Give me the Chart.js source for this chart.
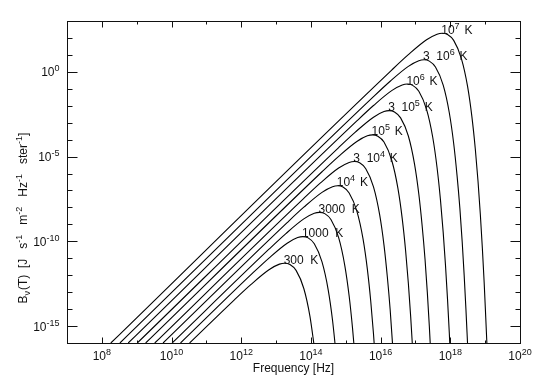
<!DOCTYPE html>
<html>
<head>
<meta charset="utf-8">
<script src="https://cdn.jsdelivr.net/npm/chart.js@4.4.1/dist/chart.umd.min.js"></script>
<style>
  body { margin: 0; background: #fff; }
</style>
</head>
<body>
<canvas id="planck_chart" width="540" height="386"></canvas>
<script>
// axis ranges and labelled decades
var xMin = 1e7, xMax = 1e20
var yMin = 1e-16, yMax = 1e3
var xLabelExps = [8, 10, 12, 14, 16, 18, 20]
var yLabelExps = [0, -5, -10, -15]

// curve labels: [text, exponent, tail]
var tempLabels = [
  ["300  K"], ["1000  K"], ["3000  K"],
  ["10", "4", " K"], ["3  10", "4", " K"],
  ["10", "5", " K"], ["3  10", "5", " K"],
  ["10", "6", " K"], ["3  10", "6", " K"],
  ["10", "7", " K"]
]

// points: [frequency (Hz), B_nu]
var curve300K = [[3.30e10, 1e-16], [6.25e11, 3.42e-14], [1.88e12, 2.78e-13], [6.25e12, 2.10e-12], [1.25e13, 4.51e-12], [1.76e13, 5.12e-12], [2.50e13, 4.30e-12], [3.75e13, 1.93e-12], [6.25e13, 1.64e-13], [9.38e13, 3.72e-15], [1.25e14, 5.94e-17]]
var curve1000K = [[1.81e10, 1e-16], [2.08e12, 1.27e-12], [6.25e12, 1.03e-11], [2.08e13, 7.76e-11], [4.17e13, 1.67e-10], [5.88e13, 1.90e-10], [8.33e13, 1.59e-10], [1.25e14, 7.16e-11], [2.08e14, 6.06e-12], [3.13e14, 1.38e-13], [4.17e14, 2.20e-15], [5.21e14, 2.89e-17]]
var curve3000K = [[1.04e10, 1e-16], [6.25e12, 3.42e-11], [1.88e13, 2.78e-10], [6.25e13, 2.10e-9], [1.25e14, 4.51e-9], [1.76e14, 5.12e-9], [2.50e14, 4.30e-9], [3.75e14, 1.93e-9], [6.25e14, 1.64e-10], [9.38e14, 3.72e-12], [1.25e15, 5.94e-14], [1.56e15, 7.82e-16], [1.88e15, 9.10e-18]]
var curve1e4K = [[5.71e9, 1e-16], [2.08e13, 1.27e-9], [6.25e13, 1.03e-8], [2.08e14, 7.76e-8], [4.17e14, 1.67e-7], [5.88e14, 1.90e-7], [8.33e14, 1.59e-7], [1.25e15, 7.16e-8], [2.08e15, 6.06e-9], [3.13e15, 1.38e-10], [4.17e15, 2.20e-12], [5.21e15, 2.89e-14], [6.25e15, 3.37e-16], [7.29e15, 3.61e-18]]
var curve3e4K = [[3.30e9, 1e-16], [6.25e13, 3.42e-8], [1.88e14, 2.78e-7], [6.25e14, 2.10e-6], [1.25e15, 4.51e-6], [1.76e15, 5.12e-6], [2.50e15, 4.30e-6], [3.75e15, 1.93e-6], [6.25e15, 1.64e-7], [9.38e15, 3.72e-9], [1.25e16, 5.94e-11], [1.56e16, 7.82e-13], [1.88e16, 9.10e-15], [2.19e16, 9.74e-17], [2.50e16, 9.79e-19]]
var curve1e5K = [[1.81e9, 1e-16], [2.08e14, 1.27e-6], [6.25e14, 1.03e-5], [2.08e15, 7.76e-5], [4.17e15, 1.67e-4], [5.88e15, 1.90e-4], [8.33e15, 1.59e-4], [1.25e16, 7.16e-5], [2.08e16, 6.06e-6], [3.13e16, 1.38e-7], [4.17e16, 2.20e-9], [5.21e16, 2.89e-11], [6.25e16, 3.37e-13], [7.29e16, 3.61e-15], [8.33e16, 3.63e-17]]
var curve3e5K = [[1.04e9, 1e-16], [6.25e14, 3.42e-5], [1.88e15, 2.78e-4], [6.25e15, 2.10e-3], [1.25e16, 4.51e-3], [1.76e16, 5.12e-3], [2.50e16, 4.30e-3], [3.75e16, 1.93e-3], [6.25e16, 1.64e-4], [9.38e16, 3.72e-6], [1.25e17, 5.94e-8], [1.56e17, 7.82e-10], [1.88e17, 9.10e-12], [2.19e17, 9.74e-14], [2.50e17, 9.79e-16], [2.81e17, 9.39e-18]]
var curve1e6K = [[5.71e8, 1e-16], [2.08e15, 1.27e-3], [6.25e15, 1.03e-2], [2.08e16, 7.76e-2], [4.17e16, 0.167], [5.88e16, 0.190], [8.33e16, 0.159], [1.25e17, 7.16e-2], [2.08e17, 6.06e-3], [3.13e17, 1.38e-4], [4.17e17, 2.20e-6], [5.21e17, 2.89e-8], [6.25e17, 3.37e-10], [7.29e17, 3.61e-12], [8.33e17, 3.63e-14], [9.38e17, 3.48e-16], [1.04e18, 3.22e-18]]
var curve3e6K = [[3.30e8, 1e-16], [6.25e15, 3.42e-2], [1.88e16, 0.278], [6.25e16, 2.10], [1.25e17, 4.51], [1.76e17, 5.12], [2.50e17, 4.30], [3.75e17, 1.93], [6.25e17, 0.164], [9.38e17, 3.72e-3], [1.25e18, 5.94e-5], [1.56e18, 7.82e-7], [1.88e18, 9.10e-9], [2.19e18, 9.74e-11], [2.50e18, 9.79e-13], [2.81e18, 9.39e-15], [3.13e18, 8.68e-17]]
var curve1e7K = [[1.81e8, 1e-16], [2.08e16, 1.27], [6.25e16, 10.3], [2.08e17, 77.6], [4.17e17, 167], [5.88e17, 190], [8.33e17, 159], [1.25e18, 71.6], [2.08e18, 6.06], [3.13e18, 0.138], [4.17e18, 2.20e-3], [5.21e18, 2.89e-5], [6.25e18, 3.37e-7], [7.29e18, 3.61e-9], [8.33e18, 3.63e-11], [9.38e18, 3.48e-13], [1.04e19, 3.22e-15], [1.15e19, 2.88e-17]]

var curves = [curve300K, curve1000K, curve3000K, curve1e4K, curve3e4K, curve1e5K, curve3e5K, curve1e6K, curve3e6K, curve1e7K]

var FONT = '"Liberation Sans", Arial, sans-serif'

// draw text made of pieces with different sizes / raised pieces
function drawRich(ctx, parts, x, y, align) {
  var w = 0
  parts.forEach(function (p) {
    ctx.font = p.size + 'px ' + FONT
    w += ctx.measureText(p.t).width + (p.pad || 0)
  })
  if (align === 'center') x -= w / 2
  if (align === 'right') x -= w
  parts.forEach(function (p) {
    ctx.font = p.size + 'px ' + FONT
    ctx.fillText(p.t, x, y - (p.rise || 0))
    x += ctx.measureText(p.t).width + (p.pad || 0)
  })
}

function power(base, exp) {
  return [{t: base, size: 12}, {t: exp, size: 9, rise: 5}]
}

var idlAxes = {
  id: 'idlAxes',
  afterDatasetsDraw: function (chart) {
    var ctx = chart.ctx, a = chart.chartArea
    var xs = chart.scales.x, ys = chart.scales.y
    ctx.save()
    ctx.strokeStyle = '#111'
    ctx.lineWidth = 1
    var L = Math.round(a.left) + 0.5, R = Math.round(a.right) + 0.5
    var T = Math.round(a.top) + 0.5, B = Math.round(a.bottom) + 0.5
    ctx.strokeRect(L, T, R - L, B - T)

    ctx.beginPath()
    for (var e = 7; e <= 20; e++) {
      var px = Math.round(xs.getPixelForValue(Math.pow(10, e))) + 0.5
      var len = (e % 2 === 0) ? 6 : 3
      ctx.moveTo(px, B); ctx.lineTo(px, B - len)
      ctx.moveTo(px, T); ctx.lineTo(px, T + len)
    }
    for (var e = -16; e <= 3; e++) {
      var py = Math.round(ys.getPixelForValue(Math.pow(10, e))) + 0.5
      var len = (e % 5 === 0) ? 10 : 5
      ctx.moveTo(L, py); ctx.lineTo(L + len, py)
      ctx.moveTo(R, py); ctx.lineTo(R - len, py)
    }
    ctx.stroke()

    ctx.fillStyle = '#111'
    ctx.textAlign = 'left'
    ctx.textBaseline = 'alphabetic'
    xLabelExps.forEach(function (e) {
      var px = xs.getPixelForValue(Math.pow(10, e))
      drawRich(ctx, power('10', String(e)), px, a.bottom + 16.5, 'center')
    })
    yLabelExps.forEach(function (e) {
      var py = ys.getPixelForValue(Math.pow(10, e))
      drawRich(ctx, power('10', String(e)), a.left - 7.5, py + 4.5, 'right')
    })

    // axis titles
    drawRich(ctx, [{t: 'Frequency [Hz]', size: 12}], (a.left + a.right) / 2, 372, 'center')
    ctx.save()
    ctx.translate(26.5, 303.5)
    ctx.rotate(-Math.PI / 2)
    drawRich(ctx, [
      {t: 'B', size: 12}, {t: '\u03BD', size: 9, rise: -3, pad: 1},
      {t: '(T)  [J   s', size: 12}, {t: '-1', size: 9, rise: 5},
      {t: '   m', size: 12}, {t: '-2', size: 9, rise: 5},
      {t: '   Hz', size: 12}, {t: '-1', size: 9, rise: 5},
      {t: '   ster', size: 12}, {t: '-1', size: 9, rise: 5},
      {t: ']', size: 12}
    ], 0, 0, 'left')
    ctx.restore()

    // temperature labels sit on the peak of each curve
    chart.data.datasets.forEach(function (ds, i) {
      var peak = ds.data[0]
      ds.data.forEach(function (p) { if (p[1] > peak[1]) peak = p })
      var px = xs.getPixelForValue(peak[0]), py = ys.getPixelForValue(peak[1])
      var lab = tempLabels[i]
      var parts = [{t: lab[0], size: 12}]
      if (lab.length > 1) {
        parts.push({t: lab[1], size: 9, rise: 5, pad: 1.5})
        parts.push({t: lab[2], size: 12})
      }
      drawRich(ctx, parts, px - 1, py + 0.5, 'left')
    })
    ctx.restore()
  }
}

var datasets = []
for (var i = 0; i < curves.length; i++) {
  datasets.push({
    label: tempLabels[i].join(''),
    data: curves[i],
    borderColor: '#000',
    borderWidth: 1.1,
    pointRadius: 0,
    fill: false,
    cubicInterpolationMode: 'monotone'
  })
}

var ctx = document.getElementById('planck_chart')
var planckChart = new Chart(ctx, {
  type: 'line',
  data: { datasets: datasets },
  options: {
    responsive: false,
    animation: false,
    events: [],
    layout: { padding: { left: 67, right: 20, top: 21, bottom: 43 } },
    plugins: { legend: { display: false }, tooltip: { enabled: false } },
    scales: {
      x: { type: 'logarithmic', min: xMin, max: xMax, display: false },
      y: { type: 'logarithmic', min: yMin, max: yMax, display: false }
    }
  },
  plugins: [idlAxes]
})
</script>
</body>
</html>
